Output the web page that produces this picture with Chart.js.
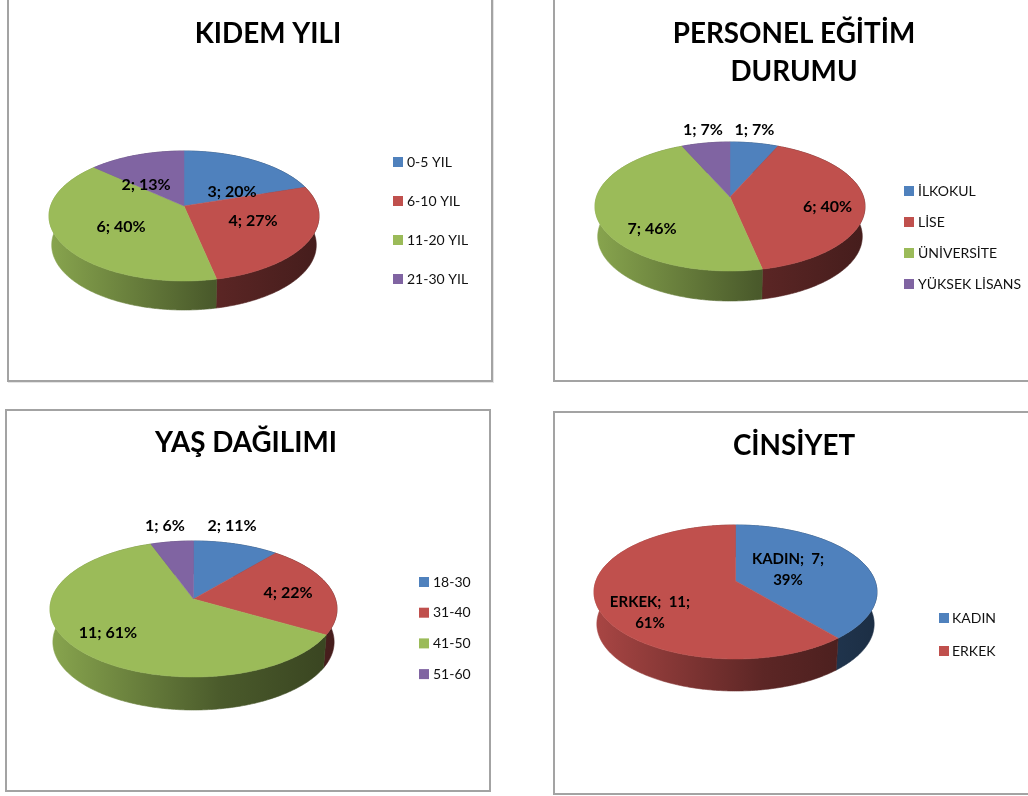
<!DOCTYPE html>
<html>
<head>
<meta charset="utf-8">
<script src="https://cdn.jsdelivr.net/npm/chart.js@4"></script>
<style>
  html, body { margin: 0; padding: 0; background: #fff; overflow: hidden; }
  .panel { position: absolute; box-sizing: border-box; border: 2px solid #a3a3a3; background: #fff; }
  canvas { position: absolute; }
</style>
</head>
<body>
<script>
/* ===== DATA ===== */
const kidemLabels   = ['0-5 YIL', '6-10 YIL', '11-20 YIL', '21-30 YIL'];
const kidemValues   = [3, 4, 6, 2];
const kidemPercents = [20, 27, 40, 13];

const egitimLabels   = ['İLKOKUL', 'LİSE', 'ÜNİVERSİTE', 'YÜKSEK LİSANS'];
const egitimValues   = [1, 6, 7, 1];
const egitimPercents = [7, 40, 46, 7];

const yasLabels   = ['18-30', '31-40', '41-50', '51-60'];
const yasValues   = [2, 4, 11, 1];
const yasPercents = [11, 22, 61, 6];

const cinsiyetLabels   = ['KADIN', 'ERKEK'];
const cinsiyetValues   = [7, 11];
const cinsiyetPercents = [39, 61];

const sliceColors    = ['#4f81bd', '#c0504d', '#9bbb59', '#8064a2'];
const cinsiyetColors = ['#4f81bd', '#c0504d'];

const FONT = 'Lato';

/* ===== LAYOUT (page pixels) ===== */
const panels = [
  { left: 7,   top: -4,  width: 486, height: 386, shadow: true },
  { left: 553, top: -4,  width: 490, height: 386 },
  { left: 5,   top: 409, width: 486, height: 383 },
  { left: 553, top: 411, width: 490, height: 384 },
];

const charts = [
  {
    title: 'KIDEM YILI', labels: kidemLabels, values: kidemValues, percents: kidemPercents, colors: sliceColors,
    box: { left: 10, top: 0, width: 516, height: 380 }, titleTop: 15,
    pie: { cx: 184, half: 135, top: 151, apexY: 206, bottom: 281, depth: 29 },
    legend: { x: 393, y: 162, step: 39, gap: 14 },
    spots: [[232, 191], [253, 220], [121, 226], [146, 184]],
  },
  {
    title: ['PERSONEL EĞİTİM', 'DURUMU'], labels: egitimLabels, values: egitimValues, percents: egitimPercents, colors: sliceColors,
    box: { left: 560, top: 0, width: 468, height: 380 }, titleTop: 15,
    pie: { cx: 730, half: 135, top: 142, apexY: 197, bottom: 271, depth: 30 },
    legend: { x: 904, y: 191, step: 31, gap: 14 },
    spots: [[754.5, 129], [827.5, 206], [652, 228], [703, 129]],
  },
  {
    title: 'YAŞ DAĞILIMI', labels: yasLabels, values: yasValues, percents: yasPercents, colors: sliceColors,
    box: { left: 8, top: 411, width: 476, height: 379 }, titleTop: 13,
    pie: { cx: 193.5, half: 143.5, top: 541, apexY: 599, bottom: 677, depth: 33 },
    legend: { x: 419, y: 582, step: 30.7, gap: 14 },
    spots: [[232, 525], [288, 592], [108, 632], [165, 525]],
  },
  {
    title: 'CİNSİYET', labels: cinsiyetLabels, values: cinsiyetValues, percents: cinsiyetPercents, colors: cinsiyetColors,
    box: { left: 560, top: 413, width: 468, height: 379 }, titleTop: 14,
    pie: { cx: 735.5, half: 141.5, top: 525, apexY: 581, bottom: 659, depth: 32 },
    legend: { x: 939, y: 618, step: 33, gap: 13 },
    spots: [[788, 558], [650, 601]],
    named: true,
  },
];

/* ===== 3D PIE ===== */
function pieGeometry(pie) {
  const back  = pie.apexY - pie.top;
  const front = pie.bottom - pie.apexY;
  const p     = (front - back) / (front + back);
  return { ...pie, p, b: back * (1 + p), a: pie.half * Math.sqrt(1 - p * p) };
}

// angle is the arc angle Chart.js gives, projected onto the tilted disc
function rimPoint(g, angle) {
  const u = Math.cos(angle), v = Math.sin(angle);
  const s = 1 / (1 - g.p * v);
  return [g.cx + g.a * u * s, g.apexY + g.b * v * s];
}

function rimPoints(g, arc) {
  const pts = [];
  const n = Math.max(2, Math.ceil((arc.endAngle - arc.startAngle) * 90));
  for (let i = 0; i <= n; i++) {
    pts.push(rimPoint(g, arc.startAngle + (arc.endAngle - arc.startAngle) * i / n));
  }
  return pts;
}

function shade(hex, f) {
  const n = parseInt(hex.slice(1), 16);
  const c = [n >> 16, (n >> 8) & 255, n & 255].map(v => Math.round(v * f));
  return `rgb(${c[0]},${c[1]},${c[2]})`;
}

function drawWall(ctx, g, arc, color) {
  const pts = rimPoints(g, arc);
  const grad = ctx.createLinearGradient(g.cx - g.half, 0, g.cx + g.half, 0);
  grad.addColorStop(0, shade(color, 0.88));
  grad.addColorStop(0.6, shade(color, 0.48));
  grad.addColorStop(1, shade(color, 0.36));
  ctx.fillStyle = grad;
  ctx.strokeStyle = grad;
  ctx.lineWidth = 0.6;
  ctx.beginPath();
  pts.forEach(([x, y], i) => i ? ctx.lineTo(x, y) : ctx.moveTo(x, y));
  pts.slice().reverse().forEach(([x, y]) => ctx.lineTo(g.cx + (x - g.cx) * 0.98, y + g.depth));
  ctx.closePath();
  ctx.fill();
  ctx.stroke();
}

function drawTop(ctx, g, arc, color) {
  ctx.fillStyle = color;
  ctx.strokeStyle = color;
  ctx.lineWidth = 0.5;
  ctx.beginPath();
  ctx.moveTo(g.cx, g.apexY);
  rimPoints(g, arc).forEach(([x, y]) => ctx.lineTo(x, y));
  ctx.closePath();
  ctx.fill();
  ctx.stroke();
}

function tiltPlugin(cfg) {
  const g = pieGeometry(cfg.pie);
  const { left, top } = cfg.box;
  return {
    id: 'tilt',
    beforeDatasetsDraw(chart) {
      const ctx  = chart.ctx;
      const arcs = chart.getDatasetMeta(0).data;
      ctx.save();
      ctx.translate(-left, -top);
      arcs.forEach((arc, i) => drawWall(ctx, g, arc, cfg.colors[i]));
      ctx.restore();
      // the library still walks its own arcs, they only paint onto the tilted disc
      arcs.forEach((arc, i) => {
        arc.draw = c => {
          c.save();
          c.translate(-left, -top);
          drawTop(c, g, arc, cfg.colors[i]);
          c.restore();
        };
      });
    },
    afterDatasetsDraw(chart) {
      const ctx = chart.ctx;
      ctx.save();
      ctx.translate(-left, -top);
      ctx.textAlign = 'center';
      ctx.textBaseline = 'middle';
      ctx.fillStyle = '#000';
      ctx.font = `bold ${cfg.named ? 15 : 16}px ${FONT}`;
      cfg.values.forEach((v, i) => {
        const [x, y] = cfg.spots[i];
        if (cfg.named) {
          ctx.fillText(`${cfg.labels[i]};  ${v};`, x, y + 1);
          ctx.fillText(`${cfg.percents[i]}%`, x, y + 22);
        } else {
          ctx.fillText(`${v}; ${cfg.percents[i]}%`, x, y + 1);
        }
      });
      // legend
      ctx.textAlign = 'left';
      ctx.font = `14px ${FONT}`;
      cfg.labels.forEach((label, i) => {
        const y = cfg.legend.y + cfg.legend.step * i;
        ctx.fillStyle = cfg.colors[i];
        ctx.fillRect(cfg.legend.x, y - 5, 10, 10);
        ctx.fillStyle = '#111';
        ctx.fillText(label, cfg.legend.x + cfg.legend.gap, y);
      });
      ctx.restore();
    },
  };
}

/* ===== BUILD ===== */
panels.forEach(p => {
  const d = document.createElement('div');
  d.className = 'panel';
  d.style.cssText = `left:${p.left}px;top:${p.top}px;width:${p.width}px;height:${p.height}px`;
  if (p.shadow) d.style.boxShadow = '1px 1px 0 #e4e4e4';
  document.body.appendChild(d);
});

charts.forEach(cfg => {
  const canvas = document.createElement('canvas');
  canvas.width  = cfg.box.width;
  canvas.height = cfg.box.height;
  canvas.style.left = cfg.box.left + 'px';
  canvas.style.top  = cfg.box.top + 'px';
  document.body.appendChild(canvas);

  new Chart(canvas, {
    type: 'pie',
    data: {
      labels: cfg.labels,
      datasets: [{ data: cfg.values, backgroundColor: cfg.colors, borderWidth: 0 }],
    },
    options: {
      responsive: false,
      animation: false,
      events: [],
      plugins: {
        legend: { display: false },
        tooltip: { enabled: false },
        title: {
          display: true,
          text: cfg.title,
          color: '#000',
          font: { family: FONT, size: 27.8, weight: 'bold', lineHeight: '38px' },
          padding: { top: cfg.titleTop, bottom: 0 },
        },
      },
    },
    plugins: [tiltPlugin(cfg)],
  });
});
</script>
</body>
</html>
